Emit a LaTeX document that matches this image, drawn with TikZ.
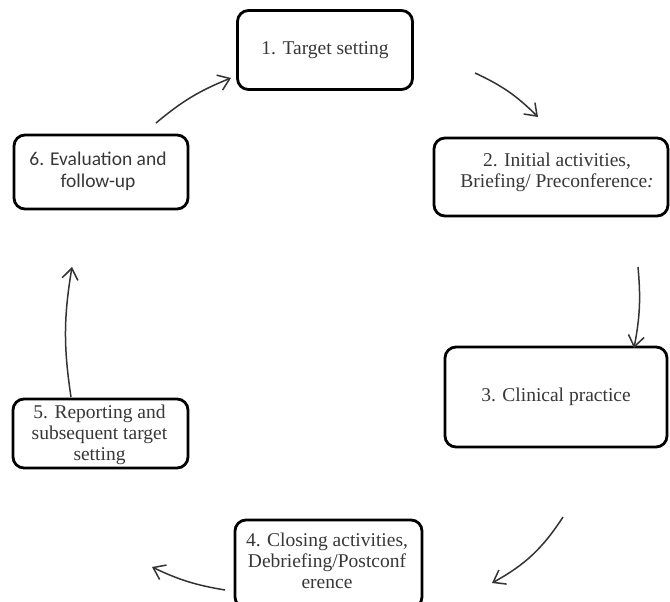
\documentclass[tikz,border=0pt]{standalone}
\usepackage{fontspec}
\setmainfont{Liberation Serif}
\newfontfamily\calib{Carlito}
\usetikzlibrary{arrows.meta}
\tikzset{
  stagebox/.style={draw=black, line width=2.8pt, rounded corners=11pt, fill=white, inner sep=0pt},
  stagetext/.style={text=black!78, align=center, inner sep=0pt, font=\fontsize{19.5}{21}\selectfont},
  cyc/.style={draw=black!80, line width=1.5pt, -{Straight Barb[length=11pt,width=16pt,line width=1.5pt]}},
}
\begin{document}
\begin{tikzpicture}[x=1pt,y=-1pt]
\useasboundingbox (0,0) rectangle (670,602);
\clip (0,0) rectangle (670,602);
% boxes
\node[stagebox, minimum width=175pt, minimum height=79pt] (b1) at (325,50) {};
\node[stagebox, minimum width=234pt, minimum height=78pt] (b2) at (551,177) {};
\node[stagebox, minimum width=222pt, minimum height=100pt] (b3) at (556,397) {};
\node[stagebox, minimum width=187pt, minimum height=88pt] (b4) at (328.5,564) {};
\node[stagebox, minimum width=175pt, minimum height=69pt] (b5) at (100.5,433.5) {};
\node[stagebox, minimum width=174pt, minimum height=74pt] (b6) at (101,172) {};
% texts
\node[stagetext] (t1) at (b1.center) {1. Target setting};
\node[stagetext] (t2) at (557,172) {2. Initial activities,\\Briefing/ Preconference\textit{:}};
\node[stagetext] (t3) at (b3.center) {3. Clinical practice};
\node[stagetext] (t4) at (327,561) {4. Closing activities,\\Debriefing/Postconf\\erence};
\node[stagetext] (t5) at (99.5,435) {5. Reporting and\\subsequent target\\setting};
\node[stagetext, font=\calib\fontsize{19.5}{22}\selectfont] (t6) at (98,171) {6. Evaluation and\\follow-up};
% connector ends
\coordinate (a1s) at (475,73);  \coordinate (a1e) at (538,117);
\coordinate (a2s) at (638,267); \coordinate (a2e) at (634,348);
\coordinate (a3s) at (563,517); \coordinate (a3e) at (492,583);
\coordinate (a4s) at (225,590); \coordinate (a4e) at (152,567);
\coordinate (a5s) at (71,397);  \coordinate (a5e) at (72,267);
\coordinate (a6s) at (156,123); \coordinate (a6e) at (231,78);
\draw[cyc] (a1s) to[bend left=10] (a1e);
\draw[cyc] (a2s) to[bend left=8] (a2e);
\draw[cyc] (a3s) to[bend left=14] (a3e);
\draw[cyc] (a4s) to[bend left=8] (a4e);
\draw[cyc] (a5s) to[bend left=9] (a5e);
\draw[cyc] (a6s) to[bend left=9] (a6e);
\end{tikzpicture}
\end{document}
